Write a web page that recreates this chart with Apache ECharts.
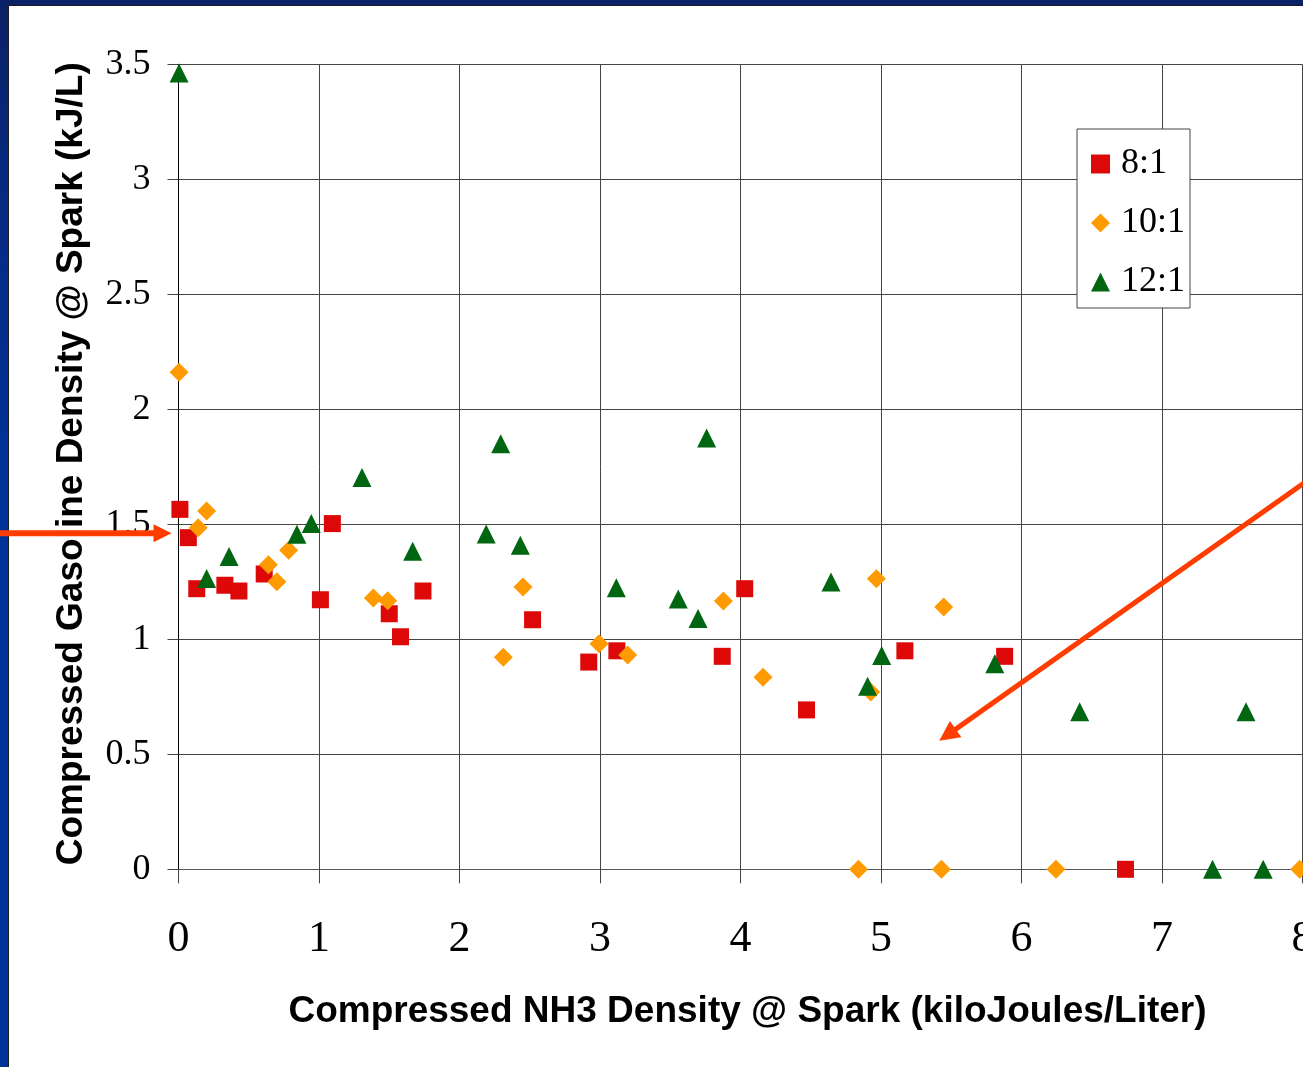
<!DOCTYPE html>
<html>
<head>
<meta charset="utf-8">
<title>Compressed Gasoline vs NH3 Density at Spark</title>
<script src="https://cdn.jsdelivr.net/npm/echarts@6/dist/echarts.min.js"></script>
<style>
  html, body { margin: 0; padding: 0; width: 1303px; height: 1067px; overflow: hidden; }
  body { background: linear-gradient(to bottom, #0b2166 0px, #062a82 200px, #003399 500px, #003399 100%); position: relative; }
  #panel { position: absolute; left: 8px; top: 5px; right: 0; bottom: 0; background: #ffffff;
           border-left: 1px solid #1a1a1a; border-top: 1px solid #1a1a1a; }
  #chart { position: absolute; left: 0; top: 0; width: 1400px; height: 1067px; }
</style>
</head>
<body>
<div id="panel"></div>
<div id="chart"></div>
<script>
// Compression ratio series: NH3 energy density (x) vs gasoline energy density (y), kJ/L
const seriesNames = ['8:1', '10:1', '12:1'];

const ratio8X = [0.01, 0.07, 0.13, 0.33, 0.43, 0.61, 1.01, 1.095, 1.50, 1.58, 1.74, 2.52, 2.92, 3.12, 3.87, 4.03, 4.47, 5.17, 5.88, 6.74];
const ratio8Y = [1.565, 1.442, 1.22, 1.235, 1.21, 1.284, 1.172, 1.503, 1.111, 1.011, 1.21, 1.085, 0.901, 0.95, 0.926, 1.22, 0.693, 0.95, 0.926, 0];

const ratio10X = [0.004, 0.14, 0.20, 0.64, 0.70, 0.784, 1.387, 1.489, 2.312, 2.452, 2.993, 3.197, 3.878, 4.16, 4.927, 4.967, 5.446, 4.84, 5.43, 6.245, 7.98];
const ratio10Y = [2.161, 1.485, 1.558, 1.324, 1.25, 1.387, 1.18, 1.168, 0.922, 1.227, 0.981, 0.932, 1.167, 0.835, 0.771, 1.263, 1.14, 0, 0, 0, 0];

const ratio12X = [0.004, 0.20, 0.36, 0.843, 0.945, 1.306, 1.667, 2.19, 2.293, 2.433, 3.116, 3.557, 3.698, 3.759, 4.644, 4.905, 5.005, 5.81, 6.414, 7.598, 7.36, 7.72];
const ratio12Y = [3.462, 1.264, 1.36, 1.457, 1.504, 1.703, 1.383, 1.458, 1.85, 1.409, 1.224, 1.175, 1.09, 1.875, 1.249, 0.796, 0.93, 0.894, 0.685, 0.685, 0, 0];

// Axis ranges
const xMin = 0, xMax = 8, xStep = 1;
const yMin = 0, yMax = 3.5, yStep = 0.5;

const xTitle = 'Compressed NH3 Density @ Spark (kiloJoules/Liter)';
const yTitle = 'Compressed Gasoline Density @ Spark (kJ/L)';

// Callout arrows, endpoints in data units [x, y]
const calloutLeft = { from: [-1.3, 1.461], to: [-0.05, 1.461] };
const calloutRight = { from: [8.7, 1.977], to: [5.415, 0.559] };

const RED = '#DD0808', ORANGE = '#FF9A00', GREEN = '#006611', ARROW = '#FF3D00';
const SERIF = '"Liberation Serif", "Times New Roman", serif';
const SANS = '"Liberation Sans", Arial, sans-serif';

function zip(xs, ys) { return xs.map((x, i) => [x, ys[i]]); }

const chart = echarts.init(document.getElementById('chart'), null, { renderer: 'canvas' });

chart.setOption({
  animation: false,
  backgroundColor: 'transparent',
  grid: { left: 178.5, top: 64.3, width: 1124, height: 805, containLabel: false },
  xAxis: {
    type: 'value', min: xMin, max: xMax, interval: xStep,
    name: xTitle, nameLocation: 'middle', nameGap: 124,
    nameTextStyle: { fontFamily: SANS, fontWeight: 'bold', fontSize: 37, color: '#000', padding: [0, 0, 0, 14] },
    axisLine: { show: true, onZero: false, lineStyle: { color: '#555', width: 1 } },
    axisTick: { show: true, inside: false, length: 14, lineStyle: { color: '#444', width: 1 } },
    axisLabel: { fontFamily: SERIF, fontSize: 44, color: '#000', margin: 48 },
    splitLine: { show: true, lineStyle: { color: '#444', width: 1 } }
  },
  yAxis: {
    type: 'value', min: yMin, max: yMax, interval: yStep,
    name: yTitle, nameLocation: 'middle', nameGap: 88, nameRotate: 90,
    nameTextStyle: { fontFamily: SANS, fontWeight: 'bold', fontSize: 37, color: '#000', padding: [0, 0, 0, 6] },
    axisLine: { show: true, onZero: false, lineStyle: { color: '#000', width: 1 } },
    axisTick: { show: true, inside: false, length: 11, lineStyle: { color: '#444', width: 1 } },
    axisLabel: { fontFamily: SERIF, fontSize: 36, color: '#000', margin: 28, padding: [8, 0, 0, 0] },
    splitLine: { show: true, lineStyle: { color: '#444', width: 1 } }
  },
  legend: {
    orient: 'vertical', left: 1077, top: 129,
    data: seriesNames,
    backgroundColor: '#fff', borderColor: '#444', borderWidth: 1,
    padding: [17, 5, 8, 14], itemGap: 23,
    itemWidth: 19, itemHeight: 19,
    textStyle: { fontFamily: SERIF, fontSize: 36, lineHeight: 36, color: '#000', padding: [0, 0, 0, 6] }
  },
  series: [
    { name: seriesNames[0], type: 'scatter', clip: false, symbol: 'rect', symbolSize: 17,
      itemStyle: { color: RED, opacity: 1 }, data: zip(ratio8X, ratio8Y) },
    { name: seriesNames[1], type: 'scatter', clip: false, symbol: 'diamond', symbolSize: 19,
      itemStyle: { color: ORANGE, opacity: 1 }, data: zip(ratio10X, ratio10Y) },
    { name: seriesNames[2], type: 'scatter', clip: false, symbol: 'triangle', symbolSize: 19,
      itemStyle: { color: GREEN, opacity: 1 }, data: zip(ratio12X, ratio12Y) }
  ]
});

// Arrow callouts: shaft plus a triangular head, placed through the grid's coordinate system
function arrow(spec, width, headLen, headHalf) {
  const p0 = chart.convertToPixel({ gridIndex: 0 }, spec.from);
  const p1 = chart.convertToPixel({ gridIndex: 0 }, spec.to);
  const dx = p1[0] - p0[0], dy = p1[1] - p0[1];
  const len = Math.hypot(dx, dy);
  const ux = dx / len, uy = dy / len;
  const bx = p1[0] - ux * headLen, by = p1[1] - uy * headLen;
  return [
    { type: 'line', z: 100, silent: true,
      shape: { x1: p0[0], y1: p0[1], x2: bx + ux * 2, y2: by + uy * 2 },
      style: { stroke: ARROW, lineWidth: width } },
    { type: 'polygon', z: 100, silent: true,
      shape: { points: [[p1[0], p1[1]], [bx - uy * headHalf, by + ux * headHalf], [bx + uy * headHalf, by - ux * headHalf]] },
      style: { fill: ARROW } }
  ];
}

chart.setOption({
  graphic: [].concat(arrow(calloutLeft, 6, 18, 9), arrow(calloutRight, 5, 20, 10))
});
</script>
</body>
</html>
